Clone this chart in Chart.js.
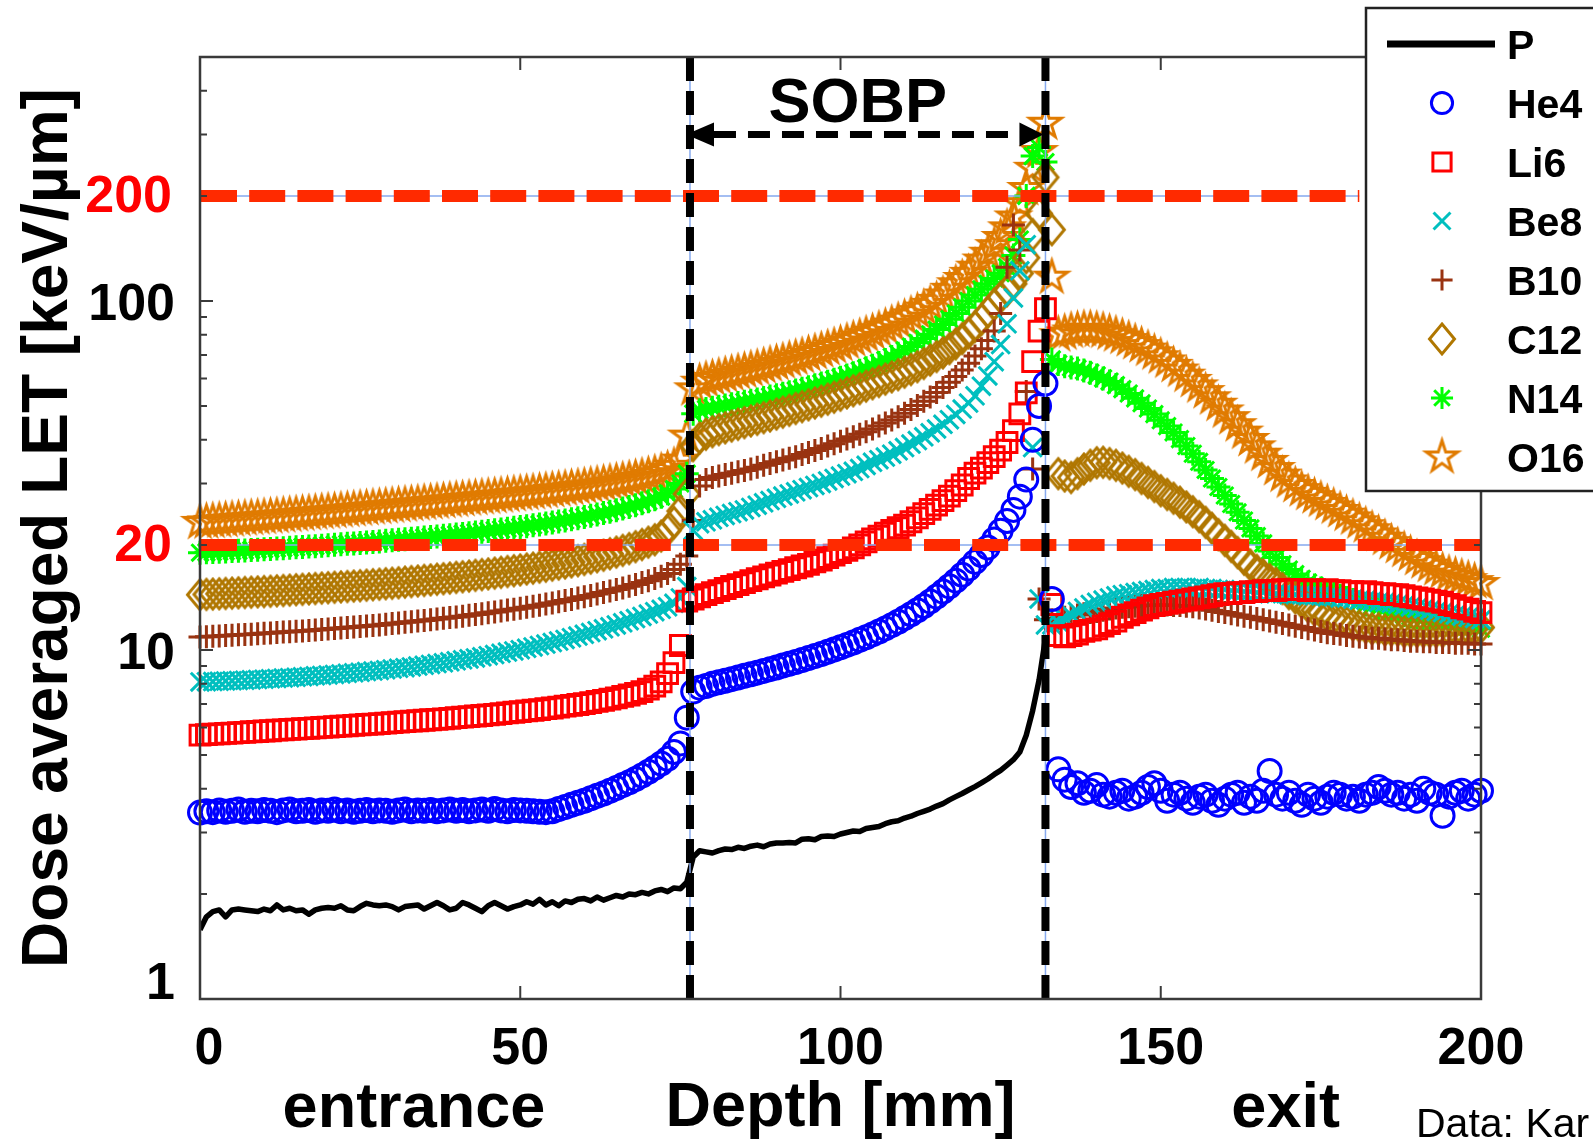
<!DOCTYPE html>
<html>
<head>
<meta charset="utf-8">
<title>Dose averaged LET vs depth</title>
<script src="https://cdn.jsdelivr.net/npm/chart.js@4.4.1/dist/chart.umd.min.js"></script>
<style>
  html, body { margin: 0; padding: 0; background: #fff; overflow: hidden; }
  canvas { display: block; }
</style>
</head>
<body>
<canvas id="let" width="1593" height="1141"></canvas>
<script>
// Depth bins (mm) and dose-averaged LET (keV/µm) per ion species.
const depthMm = Array.from({ length: 201 }, (_, i) => i);

const letP = [
  1.58,1.72,1.78,1.80,1.72,1.80,1.81,1.80,1.79,1.78,
  1.81,1.79,1.86,1.80,1.82,1.79,1.80,1.75,1.80,1.82,
  1.83,1.82,1.85,1.80,1.79,1.84,1.88,1.86,1.85,1.86,
  1.84,1.80,1.84,1.85,1.86,1.81,1.85,1.89,1.85,1.80,
  1.82,1.89,1.86,1.82,1.78,1.85,1.89,1.85,1.81,1.84,
  1.86,1.90,1.87,1.93,1.86,1.90,1.85,1.91,1.89,1.93,
  1.94,1.91,1.96,1.92,1.95,1.98,1.96,2.00,1.99,2.02,
  2.00,2.04,2.06,2.03,2.08,2.07,2.16,2.55,2.66,2.64,
  2.62,2.66,2.69,2.68,2.72,2.70,2.74,2.76,2.73,2.78,
  2.80,2.80,2.81,2.80,2.87,2.88,2.86,2.92,2.93,2.92,
  2.97,3.00,3.03,3.02,3.08,3.10,3.12,3.18,3.22,3.24,
  3.30,3.34,3.40,3.45,3.50,3.57,3.63,3.72,3.80,3.88,
  3.97,4.06,4.16,4.27,4.40,4.52,4.68,4.85,5.10,5.70,
  6.70,8.20,10.8
];

const letHe4 = [
  3.42,3.45,3.43,3.47,3.44,3.46,3.49,3.44,3.46,3.45,
  3.48,3.46,3.43,3.47,3.49,3.45,3.46,3.48,3.44,3.47,
  3.46,3.49,3.45,3.47,3.44,3.46,3.48,3.45,3.47,3.46,
  3.44,3.47,3.49,3.45,3.47,3.46,3.48,3.45,3.47,3.49,
  3.46,3.48,3.45,3.47,3.49,3.46,3.50,3.47,3.45,3.48,
  3.47,3.46,3.45,3.44,3.43,3.45,3.50,3.55,3.60,3.65,
  3.70,3.76,3.82,3.88,3.95,4.02,4.10,4.18,4.27,4.37,
  4.48,4.60,4.73,4.88,5.10,5.40,6.40,7.60,7.80,7.88,
  8.00,8.08,8.16,8.25,8.34,8.43,8.52,8.61,8.71,8.81,
  8.91,9.02,9.13,9.24,9.36,9.48,9.61,9.74,9.88,10.03,
  10.18,10.34,10.51,10.69,10.88,11.08,11.30,11.53,11.78,12.05,
  12.34,12.66,13.00,13.37,13.78,14.22,14.70,15.22,15.80,16.43,
  17.12,17.88,18.72,19.66,20.72,21.95,23.40,25.20,27.50,30.80,
  40.0,50.0,58.0,14.0,4.55,4.25,4.05,4.15,3.90,3.95,
  4.10,3.85,3.80,3.90,3.95,3.75,3.80,3.90,4.05,4.15,
  3.95,3.70,3.85,3.90,3.75,3.65,3.80,3.85,3.70,3.60,
  3.75,3.85,3.90,3.65,3.80,3.70,3.95,4.50,3.85,3.75,
  3.90,3.70,3.60,3.85,3.75,3.65,3.80,3.90,3.85,3.75,
  3.80,3.70,3.85,3.90,4.05,3.95,3.85,3.90,3.75,3.85,
  3.70,4.00,3.90,3.85,3.35,3.80,3.90,3.95,3.75,3.85,
  3.95
];

const letLi6 = [
  5.70,5.72,5.74,5.75,5.77,5.78,5.80,5.81,5.83,5.84,
  5.86,5.87,5.89,5.90,5.92,5.93,5.95,5.96,5.98,6.00,
  6.01,6.03,6.05,6.06,6.08,6.10,6.12,6.13,6.15,6.17,
  6.19,6.21,6.23,6.25,6.27,6.29,6.31,6.33,6.35,6.37,
  6.40,6.42,6.44,6.47,6.49,6.52,6.54,6.57,6.60,6.63,
  6.66,6.69,6.72,6.75,6.79,6.82,6.86,6.90,6.94,6.98,
  7.02,7.07,7.12,7.17,7.23,7.29,7.36,7.43,7.51,7.60,
  7.72,7.88,8.10,8.55,9.20,10.30,13.80,14.00,14.20,14.40,
  14.60,14.80,15.00,15.20,15.40,15.60,15.80,16.00,16.20,16.40,
  16.60,16.80,17.00,17.20,17.40,17.60,17.90,18.10,18.40,18.70,
  19.00,19.30,19.60,20.00,20.40,20.80,21.20,21.60,22.00,22.40,
  22.80,23.30,23.90,24.60,25.30,26.00,26.80,27.60,28.60,29.70,
  31.00,32.10,33.20,34.40,35.80,37.40,39.30,42.50,47.50,54.50,
  67.0,82.0,95.0,13.5,11.0,10.9,11.0,11.1,11.3,11.4,
  11.5,11.7,11.9,12.1,12.4,12.6,12.8,13.0,13.2,13.4,
  13.5,13.6,13.7,13.8,13.9,14.0,14.1,14.2,14.3,14.4,
  14.5,14.5,14.6,14.6,14.7,14.7,14.8,14.8,14.8,14.9,
  14.9,14.9,14.9,14.8,14.9,14.8,14.9,14.8,14.8,14.7,
  14.7,14.6,14.7,14.6,14.5,14.5,14.4,14.4,14.3,14.2,
  14.1,14.0,13.9,13.8,13.7,13.5,13.4,13.2,13.1,12.9,
  12.8
];

const letBe8 = [
  8.10,8.11,8.12,8.13,8.15,8.16,8.18,8.19,8.21,8.23,
  8.25,8.27,8.29,8.31,8.33,8.35,8.38,8.40,8.43,8.45,
  8.48,8.51,8.54,8.57,8.60,8.63,8.67,8.70,8.74,8.78,
  8.82,8.86,8.90,8.94,8.99,9.04,9.09,9.14,9.19,9.25,
  9.31,9.37,9.43,9.49,9.56,9.63,9.70,9.78,9.86,9.94,
  10.02,10.11,10.20,10.30,10.40,10.50,10.61,10.72,10.84,10.96,
  11.09,11.22,11.36,11.50,11.65,11.80,11.96,12.13,12.30,12.48,
  12.67,12.87,13.08,13.30,13.60,14.10,15.20,22.00,23.00,23.30,
  23.60,24.00,24.30,24.60,24.90,25.20,25.60,26.00,26.40,26.80,
  27.20,27.60,28.00,28.40,28.80,29.20,29.60,30.00,30.50,31.00,
  31.50,32.00,32.50,33.10,33.80,34.50,35.10,35.70,36.40,37.20,
  38.00,38.90,39.80,40.80,41.90,43.00,44.30,45.70,47.30,49.00,
  51.00,53.50,57.00,61.00,67.00,75.00,86.00,102.0,122.0,145.0,
  38.0,14.0,11.8,11.8,12.0,12.3,12.6,12.9,13.2,13.5,
  13.7,13.9,14.1,14.3,14.4,14.5,14.6,14.7,14.8,14.9,
  15.0,15.0,15.1,15.1,15.1,15.0,15.1,15.0,15.0,14.9,
  14.9,14.8,14.8,14.7,14.7,14.6,14.6,14.5,14.5,14.5,
  14.4,14.4,14.4,14.3,14.3,14.3,14.2,14.2,14.1,14.1,
  14.0,13.9,13.9,13.8,13.7,13.7,13.6,13.5,13.4,13.3,
  13.2,13.1,13.0,12.9,12.8,12.7,12.6,12.5,12.4,12.3,
  12.2
];

const letB10 = [
  10.90,10.92,10.95,10.97,11.00,11.02,11.05,11.08,11.10,11.13,
  11.16,11.19,11.22,11.25,11.28,11.31,11.34,11.38,11.41,11.45,
  11.48,11.52,11.56,11.60,11.64,11.68,11.72,11.76,11.80,11.85,
  11.90,11.95,12.00,12.05,12.10,12.15,12.20,12.26,12.32,12.38,
  12.44,12.50,12.57,12.64,12.71,12.78,12.85,12.93,13.01,13.09,
  13.17,13.26,13.35,13.44,13.54,13.64,13.74,13.85,13.96,14.08,
  14.20,14.33,14.46,14.60,14.75,14.90,15.06,15.23,15.41,15.60,
  15.80,16.02,16.26,16.55,17.00,17.60,18.60,23.50,29.50,30.80,
  31.20,31.50,31.80,32.10,32.40,32.70,33.00,33.40,33.80,34.20,
  34.60,35.00,35.40,35.80,36.30,36.80,37.30,37.80,38.40,39.00,
  39.60,40.20,40.80,41.50,42.20,43.00,43.80,44.70,45.60,46.60,
  47.70,48.90,50.20,51.60,53.10,54.70,56.50,58.50,60.80,63.40,
  66.30,69.50,73.00,77.00,82.00,92.00,125.0,165.0,140.0,55.0,
  33.0,14.0,12.2,12.2,12.3,12.4,12.5,12.6,12.7,12.8,
  12.9,13.0,13.1,13.2,13.25,13.3,13.35,13.4,13.4,13.45,
  13.45,13.45,13.4,13.4,13.35,13.3,13.2,13.1,13.0,12.9,
  12.8,12.7,12.6,12.5,12.4,12.3,12.2,12.1,12.0,11.9,
  11.8,11.7,11.6,11.5,11.4,11.3,11.2,11.15,11.1,11.0,
  10.95,10.9,10.85,10.8,10.8,10.75,10.7,10.7,10.65,10.6,
  10.6,10.55,10.55,10.5,10.5,10.5,10.45,10.45,10.45,10.4,
  10.4
];

const letC12 = [
  14.40,14.43,14.46,14.49,14.52,14.55,14.58,14.61,14.64,14.67,
  14.70,14.73,14.77,14.80,14.84,14.88,14.92,14.96,15.00,15.04,
  15.08,15.12,15.16,15.20,15.24,15.28,15.33,15.38,15.43,15.48,
  15.53,15.58,15.64,15.70,15.76,15.82,15.88,15.94,16.00,16.07,
  16.14,16.21,16.28,16.36,16.44,16.52,16.60,16.69,16.78,16.87,
  16.96,17.06,17.16,17.27,17.38,17.50,17.62,17.75,17.88,18.02,
  18.17,18.33,18.50,18.68,18.87,19.07,19.29,19.52,19.77,20.05,
  20.36,20.70,21.20,22.00,23.20,25.00,28.00,38.50,40.50,41.50,
  42.20,42.80,43.30,43.80,44.30,44.80,45.30,45.80,46.30,46.80,
  47.40,48.00,48.60,49.20,49.80,50.40,51.00,51.60,52.30,53.00,
  53.70,54.50,55.30,56.10,57.00,57.90,58.80,59.70,60.60,61.50,
  62.50,63.60,64.80,66.20,67.70,69.30,71.00,73.00,75.40,78.00,
  81.00,84.50,88.50,93.00,98.00,102.5,107.0,112.0,120.0,133.0,
  155.0,178.0,226.0,160.0,32.0,31.5,31.2,32.0,33.0,33.8,
  34.4,34.5,34.2,33.8,33.2,32.5,31.8,31.0,30.2,29.4,
  28.6,27.9,27.2,26.5,25.7,24.9,24.1,23.2,22.3,21.4,
  20.6,19.8,19.0,18.2,17.5,16.9,16.4,15.9,15.5,15.0,
  14.5,14.1,13.7,13.3,13.0,12.8,12.5,12.3,12.1,12.0,
  11.8,11.7,11.6,11.5,11.5,11.4,11.4,11.4,11.3,11.3,
  11.3,11.3,11.3,11.3,11.3,11.4,11.4,11.4,11.5,11.5,
  11.6
];

const letN14 = [
  19.00,19.04,19.08,19.12,19.16,19.20,19.24,19.28,19.33,19.38,
  19.43,19.48,19.53,19.58,19.63,19.68,19.73,19.78,19.84,19.90,
  19.96,20.02,20.08,20.14,20.20,20.26,20.33,20.40,20.47,20.54,
  20.61,20.68,20.75,20.83,20.91,20.99,21.07,21.15,21.24,21.33,
  21.42,21.51,21.61,21.71,21.81,21.92,22.03,22.14,22.26,22.38,
  22.50,22.63,22.76,22.90,23.04,23.19,23.34,23.50,23.67,23.85,
  24.04,24.24,24.45,24.67,24.90,25.15,25.41,25.69,25.99,26.31,
  26.66,27.04,27.50,28.10,28.90,30.00,32.00,47.50,48.60,49.00,
  49.40,49.80,50.20,50.60,51.00,51.40,51.80,52.20,52.70,53.20,
  53.70,54.20,54.80,55.40,56.00,56.60,57.30,58.00,58.70,59.50,
  60.30,61.20,62.10,63.10,64.10,65.20,66.40,67.70,69.10,70.60,
  72.20,74.00,75.90,78.00,80.30,82.80,85.60,88.70,92.10,95.90,
  100.0,104.0,108.0,112.0,116.0,120.0,125.0,135.0,150.0,200.0,
  260.0,275.0,250.0,68.0,66.0,65.0,64.5,64.0,63.2,62.3,
  61.2,60.0,58.8,57.4,55.9,54.3,52.6,50.9,49.2,47.4,
  45.5,43.8,42.0,40.2,38.4,36.5,34.6,32.8,31.0,29.3,
  27.7,26.2,24.8,23.5,22.3,21.2,20.2,19.2,18.4,17.6,
  17.0,16.5,16.0,15.6,15.3,15.0,14.7,14.5,14.3,14.1,
  13.9,13.7,13.5,13.4,13.2,13.1,12.9,12.8,12.6,12.5,
  12.4,12.3,12.2,12.1,12.0,11.9,11.8,11.7,11.6,11.6,
  11.5
];

const letO16 = [
  23.20,23.28,23.36,23.44,23.52,23.60,23.68,23.76,23.84,23.92,
  24.00,24.08,24.16,24.25,24.34,24.43,24.52,24.61,24.70,24.79,
  24.88,24.97,25.06,25.15,25.25,25.35,25.45,25.55,25.65,25.75,
  25.85,25.95,26.05,26.15,26.25,26.35,26.45,26.55,26.66,26.77,
  26.88,26.99,27.10,27.21,27.32,27.43,27.54,27.65,27.77,27.89,
  28.01,28.13,28.25,28.38,28.51,28.64,28.78,28.92,29.07,29.22,
  29.38,29.55,29.73,29.92,30.12,30.33,30.56,30.80,31.06,31.34,
  31.65,32.00,32.40,32.90,33.60,35.00,41.00,56.00,58.50,59.30,
  60.00,60.60,61.20,61.80,62.40,63.00,63.60,64.20,64.90,65.60,
  66.30,67.00,67.80,68.60,69.40,70.30,71.20,72.10,73.10,74.10,
  75.20,76.30,77.50,78.70,80.00,81.30,82.70,84.20,85.80,87.50,
  89.30,91.20,93.20,95.40,97.80,100.4,104.0,108.0,112.0,116.0,
  120.0,125.0,131.0,137.0,144.0,152.0,162.0,174.0,190.0,210.0,
  240.0,268.0,323.0,117.0,80.0,81.0,82.0,82.5,83.0,83.0,
  82.5,82.0,81.0,80.0,78.8,77.5,76.0,74.5,72.8,71.0,
  69.2,67.3,65.4,63.4,61.3,59.2,57.1,55.0,52.8,50.6,
  48.4,46.3,44.2,42.1,40.1,38.2,36.4,34.7,33.1,31.7,
  30.5,29.6,28.8,28.1,27.5,26.9,26.3,25.7,25.1,24.5,
  23.9,23.3,22.7,22.1,21.5,20.9,20.3,19.8,19.3,18.8,
  18.3,17.9,17.5,17.1,16.8,16.5,16.3,16.1,15.9,15.7,
  15.5
];

const ionNames = ['P', 'He4', 'Li6', 'Be8', 'B10', 'C12', 'N14', 'O16'];

// Spread-out Bragg peak limits (mm) and the LET reference levels (keV/µm)
const sobpRangeMm = [76.5, 132];
const sobpArrowLet = 300;
const letRefLevels = [200, 20];
const letRefEndMm = [181, 200];

const xTickValues = [0, 50, 100, 150, 200];
const yTickValues = [1, 10, 100];

// ---------- marker shapes ----------
const FONT = '"Liberation Sans", Arial, Helvetica, sans-serif';

function pentagram(color, R, lw) {
  const s = Math.ceil(2 * R + 2 * lw + 16);
  const c = document.createElement('canvas');
  c.width = c.height = s;
  const g = c.getContext('2d');
  const cx = s / 2, cy = s / 2;
  g.beginPath();
  for (let k = 0; k < 10; k++) {
    const r = k % 2 ? R * 0.382 : R;
    const a = -Math.PI / 2 + k * Math.PI / 5;
    const px = cx + r * Math.cos(a), py = cy + r * Math.sin(a);
    if (k) g.lineTo(px, py); else g.moveTo(px, py);
  }
  g.closePath();
  g.lineJoin = 'miter';
  g.lineWidth = lw;
  g.strokeStyle = color;
  g.stroke();
  return c;
}

function diamond(color, hw, hh, lw) {
  const s = Math.ceil(2 * Math.max(hw, hh) + 2 * lw + 10);
  const c = document.createElement('canvas');
  c.width = c.height = s;
  const g = c.getContext('2d');
  const cx = s / 2, cy = s / 2;
  g.beginPath();
  g.moveTo(cx, cy - hh);
  g.lineTo(cx + hw, cy);
  g.lineTo(cx, cy + hh);
  g.lineTo(cx - hw, cy);
  g.closePath();
  g.lineJoin = 'miter';
  g.lineWidth = lw;
  g.strokeStyle = color;
  g.stroke();
  return c;
}

const colors = {
  P: '#000000', He4: '#0000FF', Li6: '#FF0000', Be8: '#00BFBF',
  B10: '#993311', C12: '#B07700', N14: '#00FF00', O16: '#E07B00'
};
const MARK_LW = 3;

const markerStyles = {
  He4: { pointStyle: 'circle', radius: 11.5 },
  Li6: { pointStyle: 'rect', radius: 14 },
  Be8: { pointStyle: 'crossRot', radius: 13 },
  B10: { pointStyle: 'cross', radius: 11.5 },
  C12: { pointStyle: diamond(colors.C12, 12.5, 15, MARK_LW), radius: 13 },
  N14: { pointStyle: 'star', radius: 12 },
  O16: { pointStyle: pentagram(colors.O16, 16.5, MARK_LW), radius: 15 }
};

const ionValues = {
  P: letP, He4: letHe4, Li6: letLi6, Be8: letBe8,
  B10: letB10, C12: letC12, N14: letN14, O16: letO16
};

function toPoints(vals) {
  return vals.map((v, i) => ({ x: depthMm[i], y: v }));
}

const datasets = ionNames.map(name => {
  if (name === 'P') {
    return {
      label: name, data: toPoints(ionValues[name]), showLine: true,
      borderColor: colors.P, borderWidth: 5.5, pointRadius: 0,
      tension: 0, borderJoinStyle: 'round'
    };
  }
  const m = markerStyles[name];
  return {
    label: name, data: toPoints(ionValues[name]), showLine: false,
    pointStyle: m.pointStyle, pointRadius: m.radius,
    pointBorderColor: colors[name], pointBackgroundColor: 'rgba(0,0,0,0)',
    pointBorderWidth: MARK_LW, clip: false
  };
});

// ---------- overlay: reference lines, frame, labels, legend ----------
function txt(ctx, s, x, y, font, color, align, baseline) {
  ctx.font = font;
  ctx.fillStyle = color;
  ctx.textAlign = align || 'center';
  ctx.textBaseline = baseline || 'alphabetic';
  ctx.fillText(s, x, y);
}

const overlay = {
  id: 'letOverlay',
  afterDatasetsDraw(chart) {
    const { ctx, chartArea: a, scales: { x, y } } = chart;
    ctx.save();

    // thin guide lines underneath the dashed markers
    ctx.strokeStyle = '#86A9EE';
    ctx.lineWidth = 1.5;
    ctx.setLineDash([]);
    letRefLevels.forEach((lv, i) => {
      const py = y.getPixelForValue(lv);
      ctx.beginPath();
      ctx.moveTo(x.getPixelForValue(0), py);
      ctx.lineTo(x.getPixelForValue(letRefEndMm[i]), py);
      ctx.stroke();
    });
    sobpRangeMm.forEach(d => {
      const px = x.getPixelForValue(d);
      ctx.beginPath();
      ctx.moveTo(px, a.top);
      ctx.lineTo(px, a.bottom);
      ctx.stroke();
    });

    // red dashed LET reference levels
    ctx.strokeStyle = '#FF2A00';
    ctx.lineWidth = 12;
    ctx.lineCap = 'butt';
    ctx.setLineDash([36, 12.2]);
    letRefLevels.forEach((lv, i) => {
      const py = y.getPixelForValue(lv);
      ctx.beginPath();
      ctx.moveTo(x.getPixelForValue(0) + 1, py);
      ctx.lineTo(x.getPixelForValue(letRefEndMm[i]), py);
      ctx.stroke();
    });

    // black dashed SOBP boundaries
    ctx.strokeStyle = '#000';
    ctx.lineWidth = 8;
    ctx.setLineDash([24, 10]);
    sobpRangeMm.forEach(d => {
      const px = x.getPixelForValue(d);
      ctx.beginPath();
      ctx.moveTo(px, a.top);
      ctx.lineTo(px, a.bottom);
      ctx.stroke();
    });

    // SOBP double arrow
    const ax0 = x.getPixelForValue(sobpRangeMm[0]);
    const ax1 = x.getPixelForValue(sobpRangeMm[1]);
    const ay = y.getPixelForValue(sobpArrowLet);
    const head = 24, half = 12;
    ctx.lineWidth = 7;
    ctx.setLineDash([22, 12]);
    ctx.beginPath();
    ctx.moveTo(ax0 + head, ay);
    ctx.lineTo(ax1 - head, ay);
    ctx.stroke();
    ctx.setLineDash([]);
    ctx.fillStyle = '#000';
    ctx.beginPath();
    ctx.moveTo(ax0 - 4, ay);
    ctx.lineTo(ax0 + head, ay - half);
    ctx.lineTo(ax0 + head, ay + half);
    ctx.closePath();
    ctx.fill();
    ctx.beginPath();
    ctx.moveTo(ax1 - 2, ay);
    ctx.lineTo(ax1 - 2 - head, ay - half);
    ctx.lineTo(ax1 - 2 - head, ay + half);
    ctx.closePath();
    ctx.fill();
    txt(ctx, 'SOBP', (ax0 + ax1) / 2 - 10, ay - 12, 'bold 63px ' + FONT, '#000');

    // axes frame with inward ticks
    ctx.setLineDash([]);
    ctx.strokeStyle = '#3a3a3a';
    ctx.lineWidth = 2.5;
    ctx.strokeRect(a.left, a.top, a.right - a.left, a.bottom - a.top);
    ctx.lineWidth = 2;
    for (let dec = 1; dec <= 100; dec *= 10) {
      for (let m = 1; m <= 9; m++) {
        const v = m * dec;
        if (v > y.max) break;
        const py = y.getPixelForValue(v);
        const len = m === 1 ? 13 : 7;
        ctx.beginPath();
        ctx.moveTo(a.left, py); ctx.lineTo(a.left + len, py);
        ctx.moveTo(a.right, py); ctx.lineTo(a.right - len, py);
        ctx.stroke();
      }
    }
    xTickValues.forEach(v => {
      const px = x.getPixelForValue(v);
      ctx.beginPath();
      ctx.moveTo(px, a.bottom); ctx.lineTo(px, a.bottom - 13);
      ctx.moveTo(px, a.top); ctx.lineTo(px, a.top + 13);
      ctx.stroke();
    });

    // tick labels
    const tickFont = 'bold 52px ' + FONT;
    const capHalf = 0.716 * 52 / 2;
    yTickValues.forEach(v => {
      const py = Math.min(y.getPixelForValue(v), a.bottom - capHalf);
      txt(ctx, String(v), a.left - 25, py + capHalf, tickFont, '#000', 'right');
    });
    letRefLevels.forEach(v => {
      const py = y.getPixelForValue(v);
      txt(ctx, String(v), a.left - 28, py + capHalf - 3, tickFont, '#FF0000', 'right');
    });
    xTickValues.forEach(v => {
      const px = Math.max(x.getPixelForValue(v), a.left + 9);
      txt(ctx, String(v), px, a.bottom + 65, tickFont, '#000');
    });

    // axis titles and depth annotations
    const titleFont = 'bold 63px ' + FONT;
    txt(ctx, 'Depth [mm]', x.getPixelForValue(100), a.bottom + 127, titleFont, '#000');
    txt(ctx, 'entrance', x.getPixelForValue(33.4), a.bottom + 128, titleFont, '#000');
    txt(ctx, 'exit', x.getPixelForValue(169.5), a.bottom + 128, titleFont, '#000');
    ctx.save();
    ctx.translate(67, (a.top + a.bottom) / 2);
    ctx.rotate(-Math.PI / 2);
    txt(ctx, 'Dose averaged LET [keV/µm]', 0, 0, 'bold 64px ' + FONT, '#000');
    ctx.restore();

    // legend box
    const lx = 1366, ly = 8, lh = 483;
    ctx.fillStyle = '#fff';
    ctx.fillRect(lx, ly, chart.width - lx + 10, lh);
    ctx.strokeStyle = '#222';
    ctx.lineWidth = 2.5;
    ctx.strokeRect(lx, ly, chart.width - lx + 10, lh);
    const rowTop = 44, rowGap = 59, markX = 1442, textX = 1507;
    ionNames.forEach((name, i) => {
      const ry = rowTop + i * rowGap;
      if (name === 'P') {
        ctx.strokeStyle = colors.P;
        ctx.lineWidth = 7;
        ctx.beginPath();
        ctx.moveTo(1387, ry); ctx.lineTo(1495, ry);
        ctx.stroke();
      } else {
        const m = markerStyles[name];
        ctx.strokeStyle = colors[name];
        ctx.fillStyle = 'rgba(0,0,0,0)';
        ctx.lineWidth = MARK_LW;
        ctx.beginPath();
        Chart.helpers.drawPoint(ctx, {
          pointStyle: m.pointStyle, radius: m.radius * 0.92, rotation: 0, borderWidth: MARK_LW
        }, markX, ry);
      }
      txt(ctx, name, textX, ry + 15, 'bold 41px ' + FONT, '#000', 'left');
    });

    txt(ctx, 'Data: Kar', 1416, 1137, '41px ' + FONT, '#000', 'left');
    ctx.restore();
  }
};

new Chart(document.getElementById('let'), {
  type: 'scatter',
  data: { datasets },
  options: {
    responsive: false,
    animation: false,
    devicePixelRatio: 1,
    events: [],
    layout: { padding: { left: 200, top: 57, right: 112, bottom: 142 } },
    plugins: { legend: { display: false }, tooltip: { enabled: false } },
    scales: {
      x: { type: 'linear', min: 0, max: 200, display: false },
      y: { type: 'logarithmic', min: 1, max: 500, display: false }
    }
  },
  plugins: [overlay]
});
</script>
</body>
</html>
